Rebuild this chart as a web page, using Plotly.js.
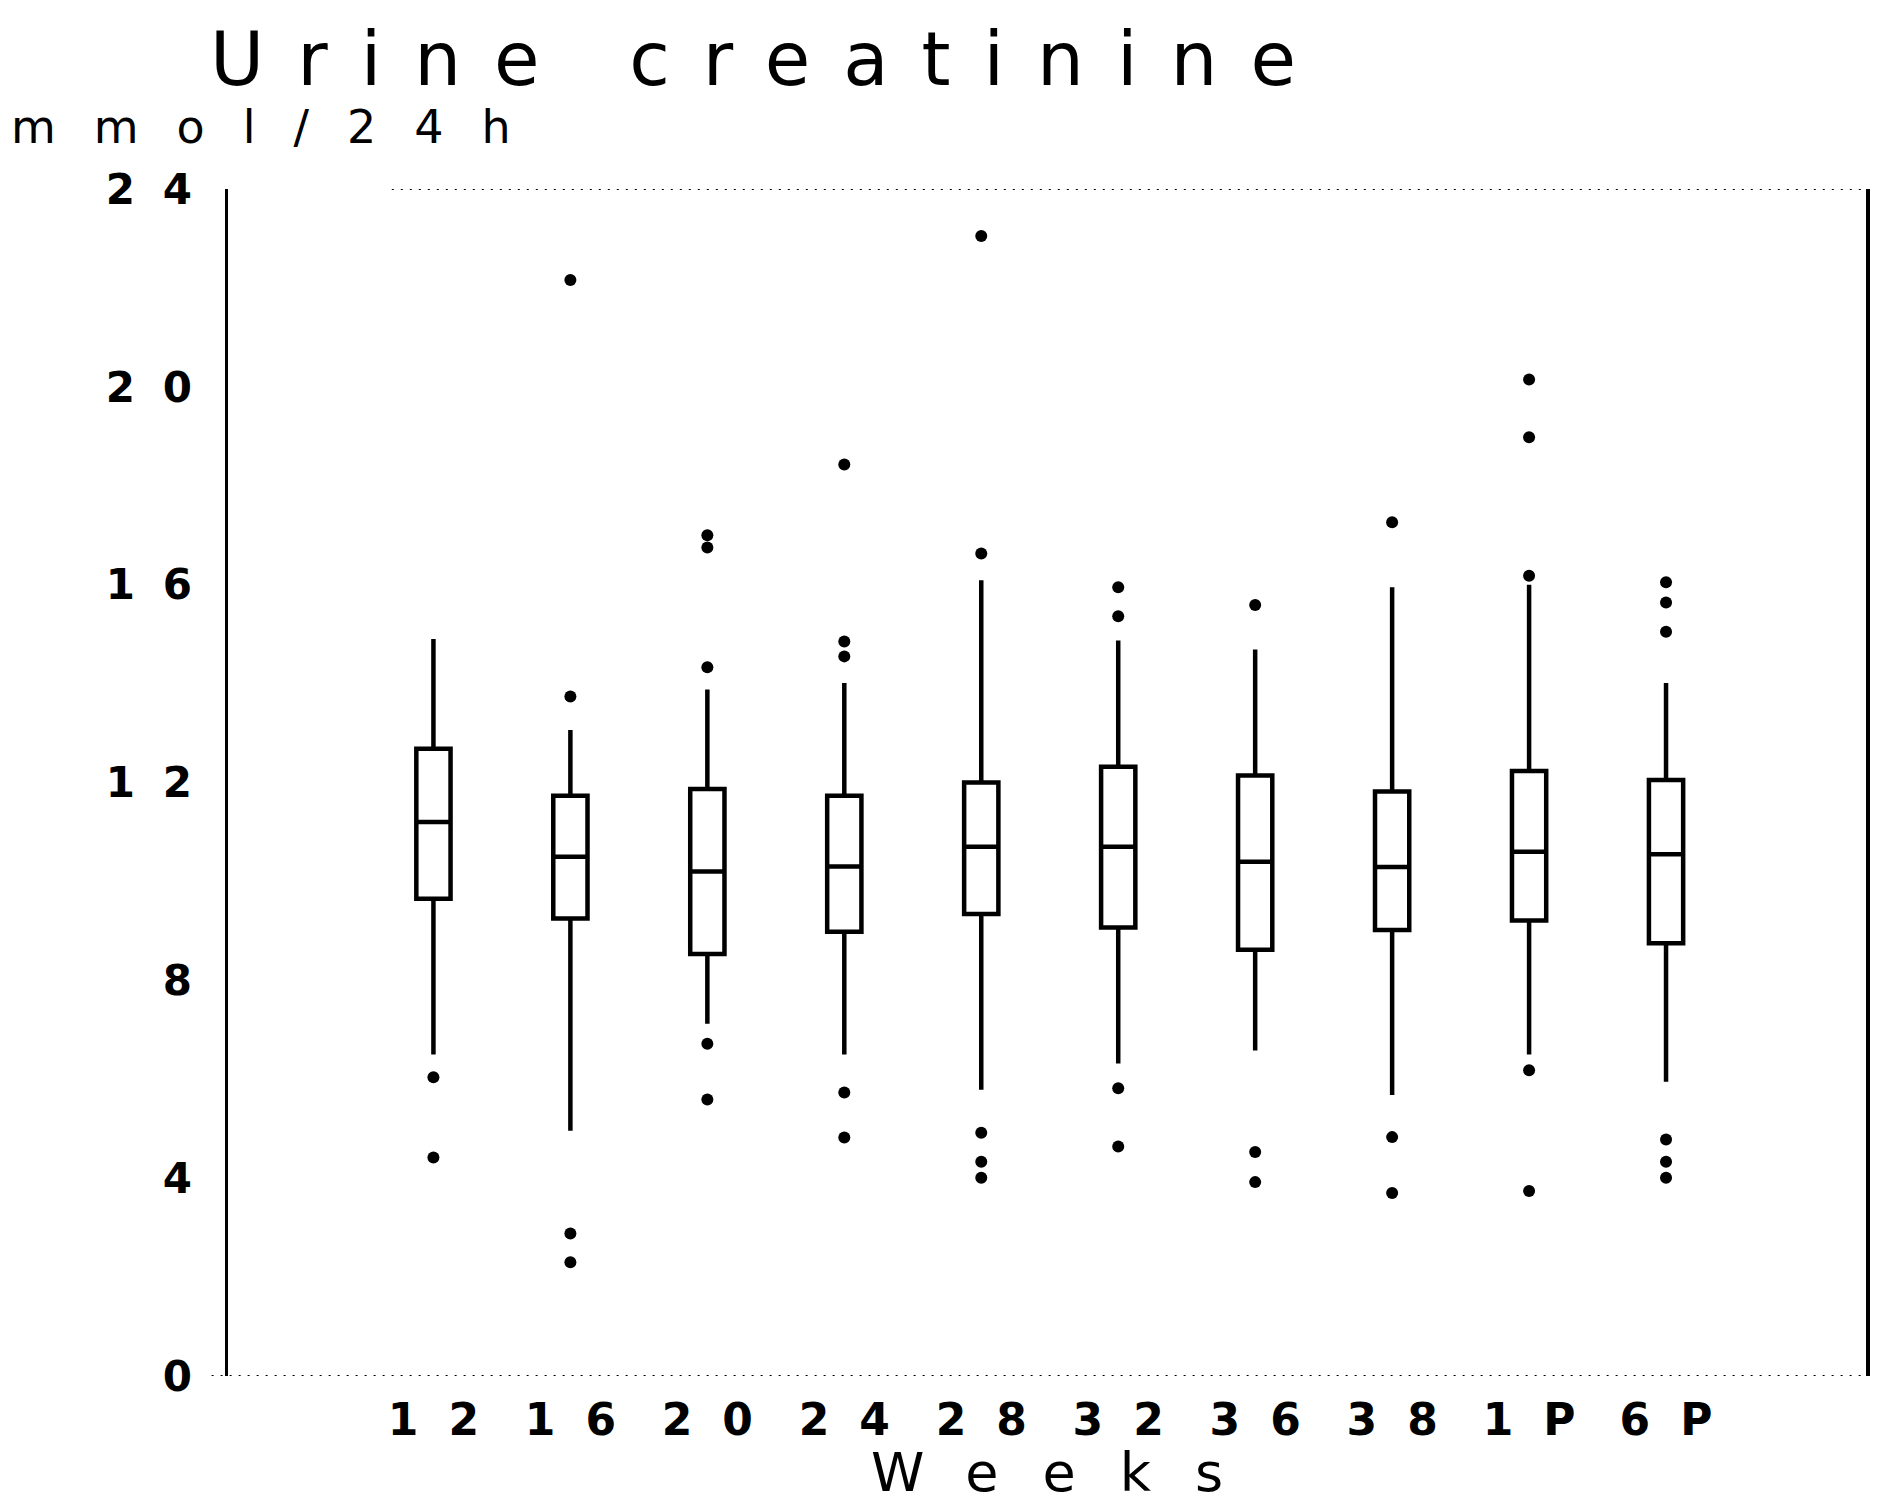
<!DOCTYPE html>
<html>
<head>
<meta charset="utf-8">
<script src="https://cdn.plot.ly/plotly-3.0.1.min.js"></script>
<style>
  html, body { margin: 0; padding: 0; background: #ffffff; }
  #chart { width: 1879px; height: 1504px; }
</style>
</head>
<body>
<div id="chart"></div>
<script>
// ---- Data ----
const categories   = ['12', '16', '20', '24', '28', '32', '36', '38', '1P', '6P'];
const q1           = [9.65, 9.25, 8.53, 8.98, 9.34, 9.07, 8.62, 9.02, 9.21, 8.75];
const medians      = [11.2, 10.5, 10.2, 10.3, 10.7, 10.7, 10.4, 10.29, 10.6, 10.55];
const q3           = [12.68, 11.73, 11.87, 11.73, 12.0, 12.32, 12.14, 11.82, 12.23, 12.05];
const lowerWhisker = [6.5, 4.96, 7.12, 6.5, 5.79, 6.32, 6.58, 5.68, 6.5, 5.95];
const upperWhisker = [14.9, 13.06, 13.88, 14.01, 16.09, 14.87, 14.69, 15.95, 16.0, 14.01];
const outlierValues = [
  [6.04, 4.42],
  [22.16, 13.74, 2.88, 2.30],
  [17.0, 16.75, 14.33, 6.72, 5.59],
  [18.43, 14.85, 14.55, 5.73, 4.82],
  [23.05, 16.63, 4.92, 4.33, 4.01],
  [15.95, 15.36, 5.82, 4.64],
  [15.59, 4.53, 3.92],
  [17.26, 4.83, 3.70],
  [20.15, 18.98, 16.18, 6.18, 3.74],
  [16.05, 15.64, 15.05, 4.78, 4.33, 4.01]
];
const yTickValues = [0, 4, 8, 12, 16, 20, 24];

const chartTitle = 'Urine creatinine';
const yUnit = 'mmol/24h';
const xTitle = 'Weeks';

// ---- Build traces ----
const outX = [], outY = [];
categories.forEach((c, i) => {
  outlierValues[i].forEach(v => { outX.push(c); outY.push(v); });
});

const boxTrace = {
  type: 'box',
  x: categories,
  q1: q1,
  median: medians,
  q3: q3,
  lowerfence: lowerWhisker,
  upperfence: upperWhisker,
  boxpoints: false,
  width: 0.25,
  whiskerwidth: 0,
  fillcolor: '#ffffff',
  line: { color: '#000000', width: 4.5 },
  showlegend: false,
  hoverinfo: 'skip'
};

const outlierTrace = {
  type: 'scatter',
  mode: 'markers',
  x: outX,
  y: outY,
  marker: { color: '#000000', size: 12, symbol: 'circle' },
  showlegend: false,
  hoverinfo: 'skip'
};

const fontFamily = '"DejaVu Sans", "Liberation Sans", sans-serif';

// letter spacings (px) used to imitate the wide plotter lettering
const SP_TITLE = 33, SP_UNIT = 38, SP_XT = 30, SP_YT = 28, SP_XTITLE = 44;

const layout = {
  width: 1879,
  height: 1504,
  paper_bgcolor: '#ffffff',
  plot_bgcolor: '#ffffff',
  margin: { l: 228, r: 13, t: 189, b: 128, pad: 0 },
  showlegend: false,
  title: {
    text: chartTitle,
    font: { family: fontFamily, size: 74, color: '#000000' },
    xref: 'container', yref: 'container',
    x: 0.1118, xanchor: 'left',
    y: 0.961, yanchor: 'middle'
  },
  xaxis: {
    type: 'category',
    categoryorder: 'array',
    categoryarray: categories,
    range: [-1.5, 10.46],
    showgrid: false,
    zeroline: false,
    showline: false,
    ticks: '',
    ticklabelstandoff: 14,
    tickfont: { family: fontFamily, size: 44, color: '#000000', weight: 'bold' },
    title: {
      text: xTitle,
      font: { family: fontFamily, size: 54, color: '#000000' },
      standoff: 2
    },
    automargin: false
  },
  yaxis: {
    range: [0, 24],
    tickmode: 'array',
    tickvals: yTickValues,
    showgrid: false,
    zeroline: false,
    showline: true,
    mirror: true,
    linecolor: '#000000',
    linewidth: 3.5,
    ticks: '',
    ticklabelstandoff: 24,
    tickfont: { family: fontFamily, size: 42, color: '#000000', weight: 'bold' },
    automargin: false
  },
  shapes: [
    { type: 'line', xref: 'paper', yref: 'y', x0: 0.1, x1: 1, y0: 24, y1: 24,
      line: { color: '#000000', width: 2, dash: '2px,7px' } },
    { type: 'line', xref: 'paper', yref: 'y', x0: -0.01, x1: 1, y0: 0, y1: 0,
      line: { color: '#000000', width: 2, dash: '2px,7px' } }
  ],
  annotations: [
    {
      text: yUnit,
      xref: 'paper', yref: 'paper',
      x: (9 + 4 * SP_UNIT - 228) / 1638, xanchor: 'left',
      y: 1.0522, yanchor: 'middle',
      showarrow: false,
      font: { family: fontFamily, size: 46, color: '#000000' }
    }
  ]
};

function spaceText(sel, sp, shift) {
  document.querySelectorAll(sel).forEach(t => {
    t.style.letterSpacing = sp + 'px';
    if (shift) {
      const tr = t.getAttribute('transform') || '';
      t.setAttribute('transform', (tr + ' translate(' + shift + ',0)').trim());
    }
  });
}

Plotly.newPlot('chart', [boxTrace, outlierTrace], layout, { staticPlot: true, responsive: false })
  .then(() => {
    spaceText('.gtitle', SP_TITLE, 0);
    spaceText('.annotation-text', SP_UNIT, 0);
    spaceText('.xtick text', SP_XT, SP_XT / 2);
    spaceText('.ytick text', SP_YT, SP_YT);
    spaceText('.g-xtitle text', SP_XTITLE, SP_XTITLE / 2);
  });
</script>
</body>
</html>
